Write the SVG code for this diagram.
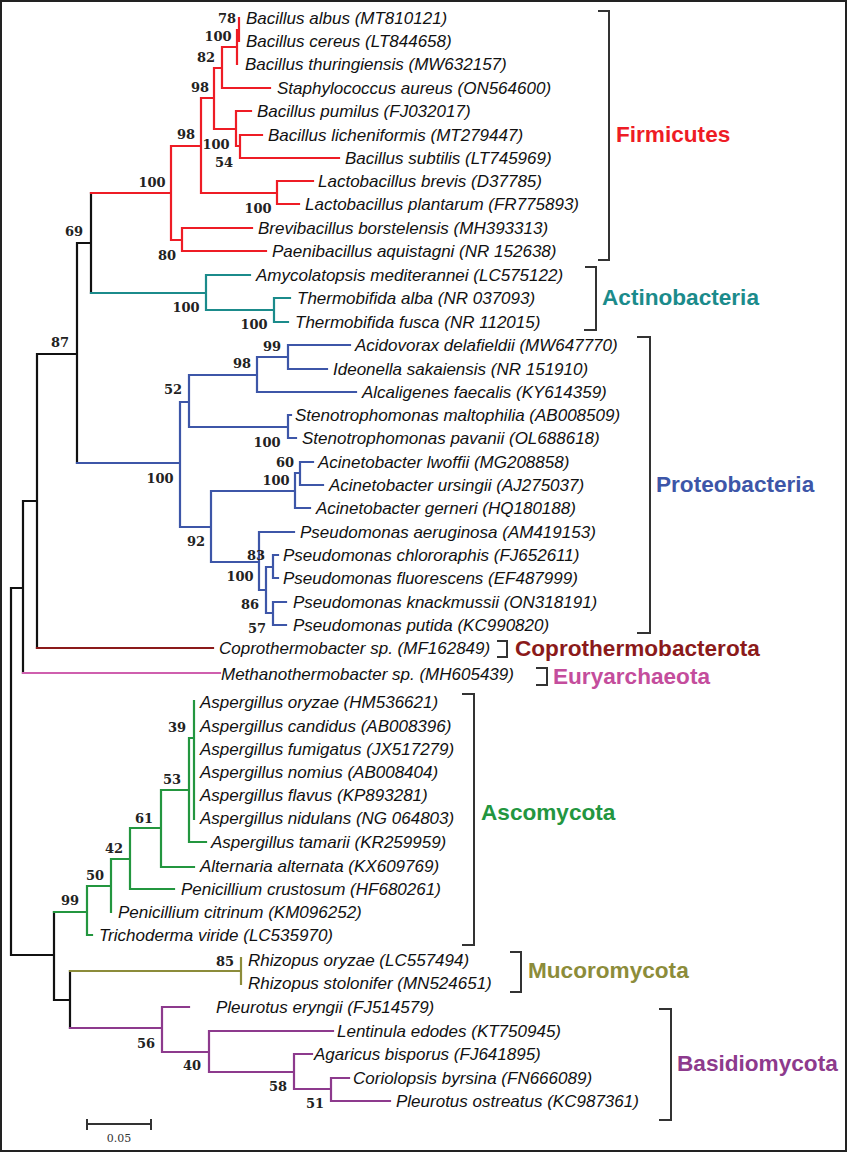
<svg xmlns="http://www.w3.org/2000/svg" width="848" height="1153" viewBox="0 0 848 1153">
<style>
.frame{fill:#fff;stroke:#222;stroke-width:2}
.br{fill:none;stroke-width:2.2;stroke-linecap:square}
.k{stroke:#111}
.red{stroke:#ee1c25}
.teal{stroke:#1b8b8b}
.blue{stroke:#3d56a8}
.dred{stroke:#8b1a1a}
.pink{stroke:#cf5fae}
.green{stroke:#23963f}
.olive{stroke:#8c8c3a}
.purple{stroke:#8d3a8d}
.leaf{font-family:"Liberation Sans",Arial,sans-serif;font-style:italic;font-size:17px;fill:#111}
.bs{font-family:"DejaVu Serif",serif;font-weight:bold;font-size:13px;fill:#222;text-anchor:middle}
.clade{font-family:"Liberation Sans",Arial,sans-serif;font-weight:bold;font-size:22.6px}
.bk{fill:none;stroke:#333;stroke-width:2}
.scale{fill:none;stroke:#333;stroke-width:2}
</style>
<rect class="frame" x="1" y="1" width="845" height="1150"/>

<g id="connectors">
  <path class="br k" d="M91,193 V293 M77,243 H91 M77,243 V463 M37,354 H77 M37,354 V648 M23,501 H37 M23,501 V673 M11,588 H23 M11,588 V955 M11,955 H54 M54,912 V1000 M54,1000 H70 M70,971 V1028"/>
  <path class="br red" d="M239,18 V41 M237,30 V64 M222,47 H237 M222,47 V88 M222,88 H270 M214,68 H222 M214,68 V129 M214,129 H236 M236,111 V146 M236,111 H251 M236,146 H240 M240,135 V158 M240,135 H262 M240,158 H339 M201,98 H214 M201,98 V193 M201,193 H277 M277,181 V204 M277,181 H313 M277,204 H299 M171,146 H201 M182,228 V251 M182,228 H252 M182,251 H266 M171,240 H182 M171,146 V240 M91,193 H171"/>
  <path class="br teal" d="M91,293 H206 M206,275 V310 M206,275 H250 M206,310 H274 M274,298 V322 M274,298 H290 M274,322 H288"/>
  <path class="br blue" d="M77,463 H180 M180,402 V527 M180,402 H189 M189,375 V427 M189,375 H257 M257,357 V392 M257,357 H288 M288,345 V369 M288,345 H350 M288,369 H327 M257,392 H356 M189,427 H288 M288,415 V438 M288,415 H291 M288,438 H296 M180,527 H211 M211,491 V562 M211,491 H295 M295,473 V508 M295,473 H300 M300,462 V485 M300,462 H313 M300,485 H323 M295,508 H310 M211,562 H259 M259,532 V590 M259,532 H294 M259,590 H266 M266,567 V613 M266,567 H273 M266,613 H273 M273,555 V578 M273,555 H278 M273,578 H278 M273,602 V625 M273,602 H286 M273,625 H286"/>
  <path class="br dred" d="M37,648 H213"/>
  <path class="br pink" d="M23,673 H220"/>
  <path class="br green" d="M54,912 H87 M87,886 V935 M87,935 H92 M87,886 H111 M111,859 V912 M111,859 H130 M130,828 V889 M130,889 H174 M130,828 H161 M161,790 V867 M161,867 H194 M161,790 H189 M189,738 V842 M189,842 H206 M189,738 H194 M194,701 V819"/>
  <path class="br olive" d="M70,971 H241 M241,958 V984"/>
  <path class="br purple" d="M70,1028 H162 M162,1007 V1052 M162,1007 H189 M162,1052 H209 M209,1031 V1072 M209,1031 H333 M209,1072 H294 M294,1054 V1089 M294,1054 H312 M294,1089 H331 M331,1078 V1101 M331,1078 H349 M331,1101 H390"/>
</g>

<g id="bootstrap">
  <text class="bs" x="227" y="23">78</text>
  <text class="bs" x="218" y="41">100</text>
  <text class="bs" x="206" y="62">82</text>
  <text class="bs" x="200" y="92">98</text>
  <text class="bs" x="186" y="139">98</text>
  <text class="bs" x="216" y="149">100</text>
  <text class="bs" x="224" y="167">54</text>
  <text class="bs" x="152" y="187">100</text>
  <text class="bs" x="258" y="213">100</text>
  <text class="bs" x="74" y="236">69</text>
  <text class="bs" x="167" y="260">80</text>
  <text class="bs" x="186" y="312">100</text>
  <text class="bs" x="254" y="329">100</text>
  <text class="bs" x="60" y="347">87</text>
  <text class="bs" x="272" y="351">99</text>
  <text class="bs" x="242" y="368">98</text>
  <text class="bs" x="173" y="394">52</text>
  <text class="bs" x="267" y="447">100</text>
  <text class="bs" x="285" y="467">60</text>
  <text class="bs" x="276" y="485">100</text>
  <text class="bs" x="160" y="483">100</text>
  <text class="bs" x="196" y="546">92</text>
  <text class="bs" x="256" y="560">83</text>
  <text class="bs" x="240" y="581">100</text>
  <text class="bs" x="250" y="609">86</text>
  <text class="bs" x="257" y="633">57</text>
  <text class="bs" x="177" y="732">39</text>
  <text class="bs" x="172" y="784">53</text>
  <text class="bs" x="144" y="823">61</text>
  <text class="bs" x="114" y="853">42</text>
  <text class="bs" x="95" y="880">50</text>
  <text class="bs" x="70" y="905">99</text>
  <text class="bs" x="225" y="966">85</text>
  <text class="bs" x="146" y="1048">56</text>
  <text class="bs" x="192" y="1070">40</text>
  <text class="bs" x="278" y="1091">58</text>
  <text class="bs" x="315" y="1108">51</text>
</g>

<g id="leaf-bacillus-albus"><text class="leaf" x="246" y="24">Bacillus albus (MT810121)</text></g>
<g id="leaf-bacillus-cereus"><text class="leaf" x="246" y="47">Bacillus cereus (LT844658)</text></g>
<g id="leaf-bacillus-thuringiensis"><text class="leaf" x="245" y="70">Bacillus thuringiensis (MW632157)</text></g>
<g id="leaf-staphylococcus-aureus"><text class="leaf" x="277" y="94">Staphylococcus aureus (ON564600)</text></g>
<g id="leaf-bacillus-pumilus"><text class="leaf" x="257" y="117">Bacillus pumilus (FJ032017)</text></g>
<g id="leaf-bacillus-licheniformis"><text class="leaf" x="268" y="141">Bacillus licheniformis (MT279447)</text></g>
<g id="leaf-bacillus-subtilis"><text class="leaf" x="345" y="164">Bacillus subtilis (LT745969)</text></g>
<g id="leaf-lactobacillus-brevis"><text class="leaf" x="318" y="187">Lactobacillus brevis (D37785)</text></g>
<g id="leaf-lactobacillus-plantarum"><text class="leaf" x="305" y="210">Lactobacillus plantarum (FR775893)</text></g>
<g id="leaf-brevibacillus"><text class="leaf" x="258" y="234">Brevibacillus borstelensis (MH393313)</text></g>
<g id="leaf-paenibacillus"><text class="leaf" x="272" y="257">Paenibacillus aquistagni (NR 152638)</text></g>
<g id="leaf-amycolatopsis"><text class="leaf" x="256" y="281">Amycolatopsis mediterannei (LC575122)</text></g>
<g id="leaf-thermobifida-alba"><text class="leaf" x="297" y="304">Thermobifida alba (NR 037093)</text></g>
<g id="leaf-thermobifida-fusca"><text class="leaf" x="295" y="328">Thermobifida fusca (NR 112015)</text></g>
<g id="leaf-acidovorax"><text class="leaf" x="355" y="351">Acidovorax delafieldii (MW647770)</text></g>
<g id="leaf-ideonella"><text class="leaf" x="333" y="375">Ideonella sakaiensis (NR 151910)</text></g>
<g id="leaf-alcaligenes"><text class="leaf" x="362" y="398">Alcaligenes faecalis (KY614359)</text></g>
<g id="leaf-steno-maltophilia"><text class="leaf" x="295" y="421">Stenotrophomonas maltophilia (AB008509)</text></g>
<g id="leaf-steno-pavanii"><text class="leaf" x="302" y="444">Stenotrophomonas pavanii (OL688618)</text></g>
<g id="leaf-acineto-lwoffii"><text class="leaf" x="318" y="468">Acinetobacter lwoffii (MG208858)</text></g>
<g id="leaf-acineto-ursingii"><text class="leaf" x="329" y="491">Acinetobacter ursingii (AJ275037)</text></g>
<g id="leaf-acineto-gerneri"><text class="leaf" x="316" y="514">Acinetobacter gerneri (HQ180188)</text></g>
<g id="leaf-pseudo-aeruginosa"><text class="leaf" x="300" y="538">Pseudomonas aeruginosa (AM419153)</text></g>
<g id="leaf-pseudo-chlororaphis"><text class="leaf" x="283" y="561">Pseudomonas chlororaphis (FJ652611)</text></g>
<g id="leaf-pseudo-fluorescens"><text class="leaf" x="283" y="584">Pseudomonas fluorescens (EF487999)</text></g>
<g id="leaf-pseudo-knackmussii"><text class="leaf" x="293" y="608">Pseudomonas knackmussii (ON318191)</text></g>
<g id="leaf-pseudo-putida"><text class="leaf" x="293" y="631">Pseudomonas putida (KC990820)</text></g>
<g id="leaf-coprothermobacter"><text class="leaf" x="219" y="654">Coprothermobacter sp. (MF162849)</text></g>
<g id="leaf-methanothermobacter"><text class="leaf" x="221" y="680">Methanothermobacter sp. (MH605439)</text></g>
<g id="leaf-asp-oryzae"><text class="leaf" x="200" y="708">Aspergillus oryzae (HM536621)</text></g>
<g id="leaf-asp-candidus"><text class="leaf" x="200" y="732">Aspergillus candidus (AB008396)</text></g>
<g id="leaf-asp-fumigatus"><text class="leaf" x="200" y="755">Aspergillus fumigatus (JX517279)</text></g>
<g id="leaf-asp-nomius"><text class="leaf" x="200" y="778">Aspergillus nomius (AB008404)</text></g>
<g id="leaf-asp-flavus"><text class="leaf" x="200" y="801">Aspergillus flavus (KP893281)</text></g>
<g id="leaf-asp-nidulans"><text class="leaf" x="200" y="824">Aspergillus nidulans (NG 064803)</text></g>
<g id="leaf-asp-tamarii"><text class="leaf" x="211" y="848">Aspergillus tamarii (KR259959)</text></g>
<g id="leaf-alternaria"><text class="leaf" x="200" y="872">Alternaria alternata (KX609769)</text></g>
<g id="leaf-pen-crustosum"><text class="leaf" x="181" y="895">Penicillium crustosum (HF680261)</text></g>
<g id="leaf-pen-citrinum"><text class="leaf" x="118" y="918">Penicillium citrinum (KM096252)</text></g>
<g id="leaf-trichoderma"><text class="leaf" x="99" y="941">Trichoderma viride (LC535970)</text></g>
<g id="leaf-rhizopus-oryzae"><text class="leaf" x="248" y="966">Rhizopus oryzae (LC557494)</text></g>
<g id="leaf-rhizopus-stolonifer"><text class="leaf" x="248" y="989">Rhizopus stolonifer (MN524651)</text></g>
<g id="leaf-pleurotus-eryngii"><text class="leaf" x="216" y="1013">Pleurotus eryngii (FJ514579)</text></g>
<g id="leaf-lentinula"><text class="leaf" x="337" y="1037">Lentinula edodes (KT750945)</text></g>
<g id="leaf-agaricus"><text class="leaf" x="314" y="1060">Agaricus bisporus (FJ641895)</text></g>
<g id="leaf-coriolopsis"><text class="leaf" x="353" y="1084">Coriolopsis byrsina (FN666089)</text></g>
<g id="leaf-pleurotus-ostreatus"><text class="leaf" x="396" y="1107">Pleurotus ostreatus (KC987361)</text></g>

<g id="clade-firmicutes"><path class="bk" d="M598,11 H609 V260 H598"/><text class="clade" x="616" y="142" fill="#ee1c25">Firmicutes</text></g>
<g id="clade-actinobacteria"><path class="bk" d="M585,267 H596 V330 H584"/><text class="clade" x="602" y="305" fill="#1b8b8b">Actinobacteria</text></g>
<g id="clade-proteobacteria"><path class="bk" d="M637,337 H650 V633 H637"/><text class="clade" x="656" y="492" fill="#3d56a8">Proteobacteria</text></g>
<g id="clade-coprothermobacterota"><path class="bk" d="M497,641 H507 V657 H497"/><text class="clade" x="515" y="656" fill="#8b1a1a">Coprothermobacterota</text></g>
<g id="clade-euryarchaeota"><path class="bk" d="M536,668 H547 V685 H536"/><text class="clade" x="553" y="684" fill="#c44d9c">Euryarchaeota</text></g>
<g id="clade-ascomycota"><path class="bk" d="M462,694 H474 V945 H462"/><text class="clade" x="481" y="820" fill="#23963f">Ascomycota</text></g>
<g id="clade-mucoromycota"><path class="bk" d="M510,952 H521 V992 H510"/><text class="clade" x="528" y="978" fill="#8c8c3a">Mucoromycota</text></g>
<g id="clade-basidiomycota"><path class="bk" d="M659,1009 H671 V1120 H659"/><text class="clade" x="677" y="1071" fill="#8d3a8d">Basidiomycota</text></g>

<g id="scale-bar">
  <path class="scale" d="M87,1124 H151 M87,1119 V1130 M151,1119 V1130"/>
  <text x="119" y="1142" text-anchor="middle" font-family="DejaVu Serif, serif" font-size="11" fill="#333">0.05</text>
</g>
</svg>
